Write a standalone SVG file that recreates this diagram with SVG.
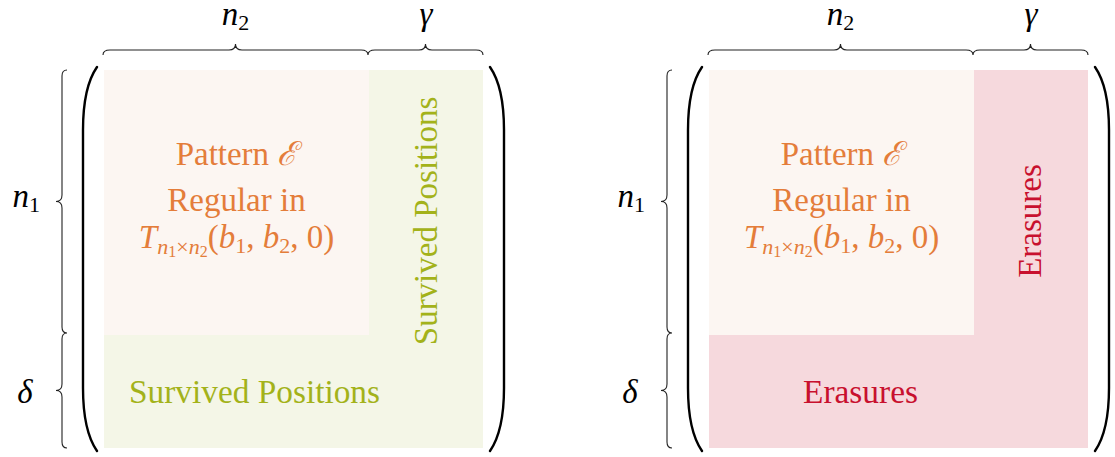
<svg xmlns="http://www.w3.org/2000/svg" width="1115" height="457" viewBox="0 0 1115 457" font-family="'Liberation Serif', 'DejaVu Serif', serif" font-size="33">
  <style>
    .t { font-family: "Liberation Serif", "DejaVu Serif", serif; font-size: 33px; }
    .m { font-family: "Liberation Serif", "DejaVu Serif", serif; font-size: 33px; font-style: italic; fill: #000; }
    .sub { font-size: 22px; font-style: normal; }
    .brace { fill: none; stroke: #222; stroke-width: 1.1; }
    .paren { fill: none; stroke: #000; stroke-width: 2.4; stroke-linecap: round; }
    .pat { fill: #fcf6f2; }
    .green { fill: #f4f6e7; }
    .pink { fill: #f6d9dd; }
    .orange { fill: #e47d3a; }
    .olive { fill: #a3b21a; }
    .red { fill: #c8102e; }
  </style>
  <defs>
    <!-- one matrix frame: top braces, side braces, parentheses -->
    <g id="frame">
      <path class="brace" d="M103,55 Q103,50 110,50 L229,50 Q235.5,50 235.5,44 Q235.5,50 242,50 L361,50 Q368,50 368,55 Q368,50 375,50 L419,50 Q425.5,50 425.5,44 Q425.5,50 432,50 L476,50 Q483,50 483,55"/>
      <path class="brace" d="M67,70 Q62,70 62,76 L62,195 Q62,201.5 56,201.5 Q62,201.5 62,208 L62,327 Q62,333 67,333 Q62,333 62,339 L62,384 Q62,390.5 56,390.5 Q62,390.5 62,397 L62,442 Q62,448 67,448"/>
      <path class="paren" d="M97,67 C88,80 83,100 83,130 L83,388 C83,418 88,438 97,451"/>
      <path class="paren" d="M490,67 C499,80 504,100 504,130 L504,388 C504,418 499,438 490,451"/>
    </g>
  </defs>

  <!-- left matrix: pattern with survived positions -->
  <g id="matrix-survived">
    <rect class="green" x="104" y="70" width="379" height="378"/>
    <rect class="pat" x="104" y="70" width="265" height="265"/>
    <use href="#frame"/>
    <text class="m" x="235.5" y="25" text-anchor="middle">n<tspan class="sub" dy="5">2</tspan></text>
    <text class="m" x="426" y="25" text-anchor="middle">γ</text>
    <text class="m" x="40" y="207" text-anchor="end">n<tspan class="sub" dy="5">1</tspan></text>
    <text class="m" x="25" y="403" text-anchor="middle">δ</text>
    <text class="t orange" x="236.5" y="165" text-anchor="middle">Pattern <tspan font-style="italic">ℰ</tspan></text>
    <text class="t orange" x="236.5" y="211" text-anchor="middle">Regular in</text>
    <text class="t orange" x="236.5" y="248" text-anchor="middle"><tspan font-style="italic">T</tspan><tspan font-size="22" font-style="italic" dy="6">n</tspan><tspan font-size="16" dy="3">1</tspan><tspan font-size="22" dy="-3">×</tspan><tspan font-size="22" font-style="italic">n</tspan><tspan font-size="16" dy="3">2</tspan><tspan dy="-9">(</tspan><tspan font-style="italic">b</tspan><tspan font-size="22" dy="5">1</tspan><tspan dy="-5">, </tspan><tspan font-style="italic">b</tspan><tspan font-size="22" dy="5">2</tspan><tspan dy="-5">, 0)</tspan></text>
    <text class="t olive" x="129" y="403" textLength="251" lengthAdjust="spacingAndGlyphs">Survived Positions</text>
    <text class="t olive" transform="translate(437,221) rotate(-90)" text-anchor="middle">Survived Positions</text>
  </g>

  <!-- right matrix: pattern with erasures -->
  <g id="matrix-erasures" transform="translate(605,0)">
    <rect class="pink" x="104" y="70" width="379" height="378"/>
    <rect class="pat" x="104" y="70" width="265" height="265"/>
    <use href="#frame"/>
    <text class="m" x="235.5" y="25" text-anchor="middle">n<tspan class="sub" dy="5">2</tspan></text>
    <text class="m" x="426" y="25" text-anchor="middle">γ</text>
    <text class="m" x="40" y="207" text-anchor="end">n<tspan class="sub" dy="5">1</tspan></text>
    <text class="m" x="25" y="403" text-anchor="middle">δ</text>
    <text class="t orange" x="236.5" y="165" text-anchor="middle">Pattern <tspan font-style="italic">ℰ</tspan></text>
    <text class="t orange" x="236.5" y="211" text-anchor="middle">Regular in</text>
    <text class="t orange" x="236.5" y="248" text-anchor="middle"><tspan font-style="italic">T</tspan><tspan font-size="22" font-style="italic" dy="6">n</tspan><tspan font-size="16" dy="3">1</tspan><tspan font-size="22" dy="-3">×</tspan><tspan font-size="22" font-style="italic">n</tspan><tspan font-size="16" dy="3">2</tspan><tspan dy="-9">(</tspan><tspan font-style="italic">b</tspan><tspan font-size="22" dy="5">1</tspan><tspan dy="-5">, </tspan><tspan font-style="italic">b</tspan><tspan font-size="22" dy="5">2</tspan><tspan dy="-5">, 0)</tspan></text>
    <text class="t red" x="198" y="403" textLength="115" lengthAdjust="spacingAndGlyphs">Erasures</text>
    <text class="t red" transform="translate(436,221) rotate(-90)" text-anchor="middle">Erasures</text>
  </g>
</svg>
